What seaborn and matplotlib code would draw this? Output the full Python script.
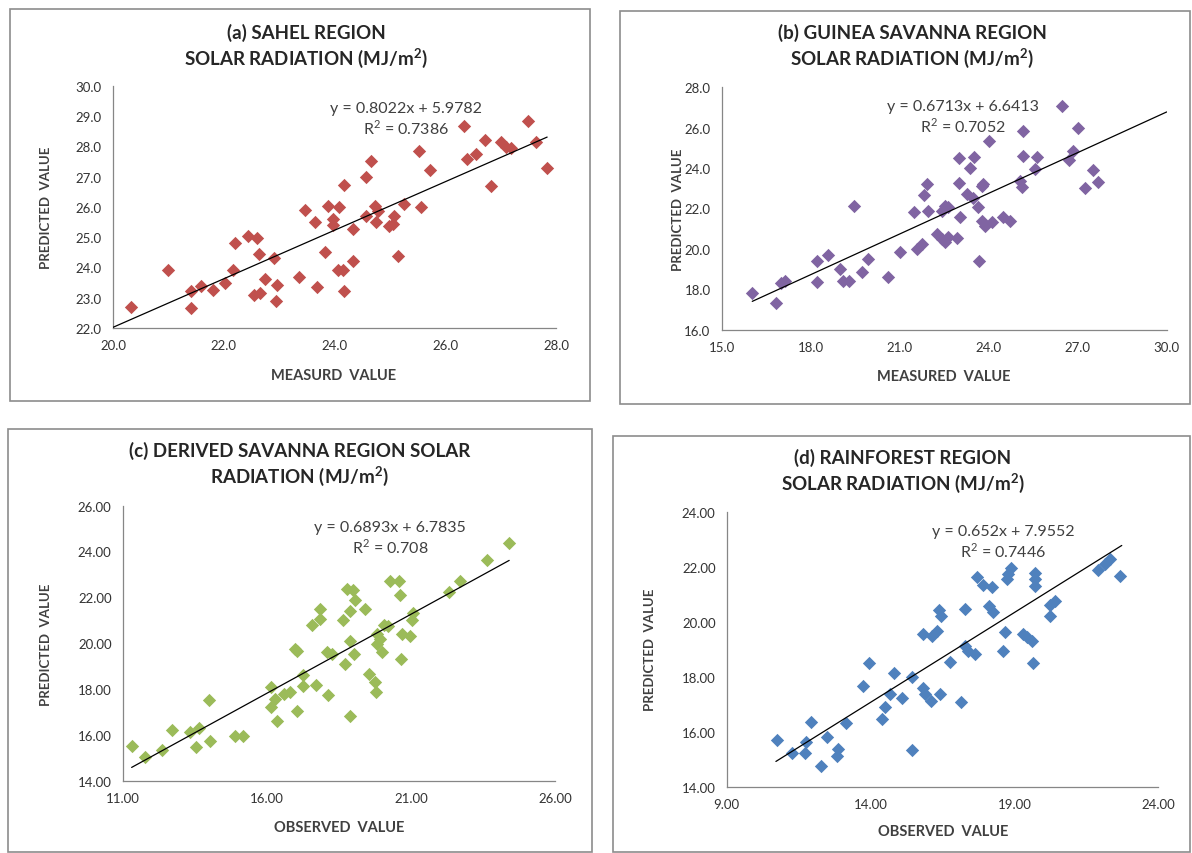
import numpy as np
import matplotlib
matplotlib.use("Agg")
import matplotlib.pyplot as plt
import seaborn as sns
from matplotlib.patches import Rectangle

# ============================================
# Data
# ============================================
sahel_obs = [20.32, 21.00, 21.40, 21.40, 21.59, 21.80, 22.02, 22.17, 22.21, 22.44,
             22.60, 22.63, 22.55, 22.65, 22.74, 22.90, 22.97, 22.94, 23.35, 23.47,
             23.64, 23.68, 23.82, 23.88, 23.97, 23.97, 24.08, 24.33, 24.33, 24.06,
             24.16, 24.18, 24.18, 24.57, 24.66, 24.74, 24.78, 24.57, 24.75, 25.08,
             25.05, 24.99, 25.26, 25.56, 25.14, 25.52, 25.73, 26.34, 26.40, 26.55,
             26.71, 26.82, 27.00, 27.09, 27.18, 27.50, 27.63, 27.83]
sahel_pred = [22.70, 23.93, 23.21, 22.67, 23.40, 23.26, 23.49, 23.93, 24.80, 25.05,
              24.97, 24.45, 23.09, 23.17, 23.62, 24.31, 23.43, 22.90, 23.68, 25.91,
              25.51, 23.37, 24.52, 26.02, 25.60, 25.41, 26.01, 25.27, 24.22, 23.93,
              23.93, 23.21, 26.74, 26.98, 27.51, 26.04, 25.88, 25.71, 25.49, 25.71,
              25.44, 25.38, 26.10, 25.99, 24.39, 27.84, 27.23, 28.69, 27.59, 27.75,
              28.22, 26.68, 28.14, 27.97, 27.94, 28.85, 28.14, 27.30]

guinea_obs = [16.03, 16.82, 16.99, 17.13, 18.20, 18.20, 18.57, 18.99, 19.10, 19.29,
              19.46, 19.74, 19.94, 20.62, 21.01, 21.49, 21.91, 21.83, 21.96, 21.57,
              21.74, 22.25, 22.41, 22.53, 22.64, 22.94, 22.53, 22.64, 22.41, 23.01,
              23.03, 23.01, 23.50, 23.37, 23.26, 23.48, 23.65, 23.82, 23.76, 23.76,
              23.87, 24.10, 24.49, 24.72, 23.68, 24.02, 25.05, 25.11, 25.17, 25.17,
              25.64, 25.56, 26.46, 26.72, 26.85, 27.02, 27.24, 27.52, 27.69]
guinea_pred = [17.80, 17.32, 18.31, 18.40, 19.42, 18.36, 19.70, 19.00, 18.40, 18.40,
               22.14, 18.84, 19.50, 18.60, 19.86, 21.81, 23.21, 22.67, 21.89, 20.00,
               20.24, 20.74, 20.50, 20.33, 20.57, 20.52, 22.14, 22.06, 21.89, 23.27,
               21.56, 24.50, 24.55, 24.01, 22.74, 22.54, 22.06, 23.19, 23.10, 21.39,
               21.14, 21.34, 21.56, 21.39, 19.39, 25.36, 23.38, 23.05, 25.85, 24.61,
               24.53, 23.96, 27.06, 24.42, 24.86, 25.98, 23.00, 23.92, 23.30]

derived_obs = [11.31, 11.77, 12.35, 12.72, 13.34, 13.66, 13.55, 14.03, 14.01, 14.90,
               15.17, 16.15, 16.15, 16.29, 16.58, 16.81, 16.35, 17.06, 17.27, 17.25,
               17.71, 16.98, 17.04, 17.56, 17.85, 17.85, 18.10, 18.14, 18.26, 18.64,
               18.78, 19.00, 19.07, 18.89, 19.41, 18.87, 19.03, 18.72, 18.87, 19.56,
               19.76, 19.80, 19.82, 19.93, 19.82, 19.99, 20.05, 20.22, 20.28, 20.57,
               20.63, 20.69, 20.98, 20.66, 21.07, 21.03, 22.31, 22.71, 23.64, 24.41]
derived_pred = [15.53, 15.02, 15.34, 16.21, 16.11, 16.29, 15.46, 15.75, 17.52, 15.94,
                15.97, 18.08, 17.20, 17.57, 17.79, 17.89, 16.62, 17.06, 18.15, 18.62,
                18.19, 19.75, 19.65, 20.77, 21.06, 21.47, 19.61, 17.76, 19.53, 20.99,
                22.37, 22.30, 21.90, 21.40, 21.50, 20.11, 19.53, 19.10, 16.81, 18.66,
                18.30, 17.86, 20.41, 20.19, 19.97, 19.63, 20.77, 20.74, 22.73, 22.73,
                22.11, 20.41, 20.31, 19.31, 21.32, 20.99, 22.25, 22.69, 23.61, 24.38]

rain_obs = [10.74, 11.26, 11.72, 11.76, 11.92, 12.28, 12.48, 12.88, 12.84, 13.15,
            13.75, 13.96, 14.39, 14.50, 14.68, 14.82, 15.08, 15.43, 15.43, 15.83,
            15.89, 16.09, 16.41, 15.83, 16.13, 16.30, 16.39, 16.44, 16.76, 17.13,
            17.28, 17.40, 17.63, 17.28, 17.69, 17.90, 18.21, 18.13, 18.25, 18.61,
            18.67, 18.73, 18.79, 18.87, 19.31, 19.45, 19.60, 19.66, 19.72, 19.72,
            19.72, 20.24, 20.24, 20.41, 21.92, 22.15, 22.32, 22.67]
rain_pred = [15.73, 15.25, 15.25, 15.63, 16.36, 14.76, 15.81, 15.39, 15.15, 16.32,
             17.67, 18.50, 16.48, 16.90, 17.39, 18.15, 17.23, 15.36, 17.99, 17.59,
             17.39, 17.14, 17.39, 19.56, 19.50, 19.68, 20.45, 20.21, 18.55, 17.09,
             19.14, 18.96, 18.84, 20.47, 21.62, 21.35, 21.26, 20.59, 20.35, 18.94,
             19.65, 21.56, 21.74, 21.95, 19.56, 19.44, 19.32, 18.51, 21.78, 21.56,
             21.30, 20.21, 20.62, 20.77, 21.90, 22.11, 22.29, 21.66]

titles = ["(a) SAHEL REGION\nSOLAR RADIATION (MJ/m$^\\mathregular{2}$)",
          "(b) GUINEA SAVANNA REGION\nSOLAR RADIATION (MJ/m$^\\mathregular{2}$)",
          "(c) DERIVED SAVANNA REGION SOLAR\nRADIATION (MJ/m$^\\mathregular{2}$)",
          "(d) RAINFOREST REGION\nSOLAR RADIATION (MJ/m$^\\mathregular{2}$)"]
xlabels = ["MEASURD  VALUE", "MEASURED  VALUE", "OBSERVED  VALUE", "OBSERVED  VALUE"]
ylabel = "PREDICTED  VALUE"
slopes = [0.8022, 0.6713, 0.6893, 0.652]
intercepts = [5.9782, 6.6413, 6.7835, 7.9552]
eq_labels = ["y = 0.8022x + 5.9782", "y = 0.6713x + 6.6413",
             "y = 0.6893x + 6.7835", "y = 0.652x + 7.9552"]
r2_labels = ["R$^\\mathregular{2}$ = 0.7386", "R$^\\mathregular{2}$ = 0.7052",
             "R$^\\mathregular{2}$ = 0.708", "R$^\\mathregular{2}$ = 0.7446"]
trend_span = [(20.0, 27.84), (16.03, 30.0), (11.31, 24.41), (10.71, 22.73)]
x_ticks = [np.arange(20, 28.1, 2), np.arange(15, 30.1, 3),
           np.arange(11, 26.1, 5), np.arange(9, 24.1, 5)]
y_ticks = [np.arange(22, 30.1, 1), np.arange(16, 28.1, 2),
           np.arange(14, 26.1, 2), np.arange(14, 24.1, 2)]
tick_fmt = ["{:.1f}", "{:.1f}", "{:.2f}", "{:.2f}"]
colors = ["#C0504D", "#8064A2", "#9BBB59", "#4F81BD"]

# ============================================
# Layout (pixel boxes on a 1192x854 canvas)
# ============================================
W, H = 1192, 854
axes_px = [(113, 87, 556, 329), (721.7, 88.3, 1166.7, 330.7),
           (122.7, 506.6, 555, 781.7), (726.7, 512.7, 1158.3, 788.3)]
frames_px = [(10, 10, 590, 402), (620, 12, 1190, 405),
             (8, 430, 592, 853), (613, 437, 1190, 853)]
title_px = [(306, 47), (912, 47), (300, 465), (903, 472)]
eq_px = [(406, 109), (963, 107), (390, 528), (1003, 532)]
xlab_px = [(334, 376), (944, 377), (339, 828), (943, 832)]
ylab_px = [(46, 208), (678, 210), (46, 645), (650, 650)]

sns.set_style("white")
plt.rcParams["font.family"] = ["Lato", "DejaVu Sans"]
plt.rcParams["mathtext.fontset"] = "custom"
plt.rcParams["mathtext.rm"] = "Lato"
plt.rcParams["mathtext.bf"] = "Lato:bold"

fig = plt.figure(figsize=(W / 100, H / 100), dpi=100)
fig.patch.set_facecolor("white")


def fx(x):
    return x / W


def fy(y):
    return 1 - y / H


datasets = [(sahel_obs, sahel_pred), (guinea_obs, guinea_pred),
            (derived_obs, derived_pred), (rain_obs, rain_pred)]

for i, (xs, ys) in enumerate(datasets):
    # chart frame
    x0, y0, x1, y1 = frames_px[i]
    fig.patches.append(Rectangle((fx(x0), fy(y1)), (x1 - x0) / W, (y1 - y0) / H,
                                 transform=fig.transFigure, fill=False,
                                 edgecolor="#8c8c8c", linewidth=1.2))

    a0, b0, a1, b1 = axes_px[i]
    ax = fig.add_axes([fx(a0), fy(b1), (a1 - a0) / W, (b1 - b0) / H])
    sns.scatterplot(x=xs, y=ys, ax=ax, marker="D", s=46, color=colors[i],
                    edgecolor=colors[i], linewidth=0, zorder=3)

    lo, hi = trend_span[i]
    tx = np.array([lo, hi])
    ax.plot(tx, slopes[i] * tx + intercepts[i], color="black", lw=0.9, zorder=4)

    xt, yt = x_ticks[i], y_ticks[i]
    ax.set_xlim(xt[0], xt[-1])
    ax.set_ylim(yt[0], yt[-1])
    ax.set_xticks(xt)
    ax.set_yticks(yt)
    ax.set_xticklabels([tick_fmt[i].format(v) for v in xt])
    ax.set_yticklabels([tick_fmt[i].format(v) for v in yt])
    ax.tick_params(axis="both", direction="out", length=4, width=0.8,
                   color="#868686", labelsize=9.5, labelcolor="#333333", pad=4)
    for side in ["top", "right"]:
        ax.spines[side].set_visible(False)
    for side in ["left", "bottom"]:
        ax.spines[side].set_color("#868686")
        ax.spines[side].set_linewidth(0.9)
    ax.set_xlabel("")
    ax.set_ylabel("")
    ax.patch.set_alpha(0)

    # texts
    tx_, ty_ = title_px[i]
    fig.text(fx(tx_), fy(ty_), titles[i], ha="center", va="center",
             fontsize=13.5, fontweight="bold", color="#262626", linespacing=1.2)
    ex, ey = eq_px[i]
    fig.text(fx(ex), fy(ey), eq_labels[i], ha="center", va="center",
             fontsize=11.5, color="#404040")
    fig.text(fx(ex), fy(ey + 19), r2_labels[i], ha="center", va="center",
             fontsize=11.5, color="#404040")
    lx, ly = xlab_px[i]
    fig.text(fx(lx), fy(ly), xlabels[i], ha="center", va="center",
             fontsize=10.5, fontweight="bold", color="#404040")
    vx, vy = ylab_px[i]
    fig.text(fx(vx), fy(vy), ylabel, ha="center", va="center", rotation=90,
             fontsize=9.5, fontweight="bold", color="#404040")

fig.savefig("out.png", dpi=100, facecolor="white")
